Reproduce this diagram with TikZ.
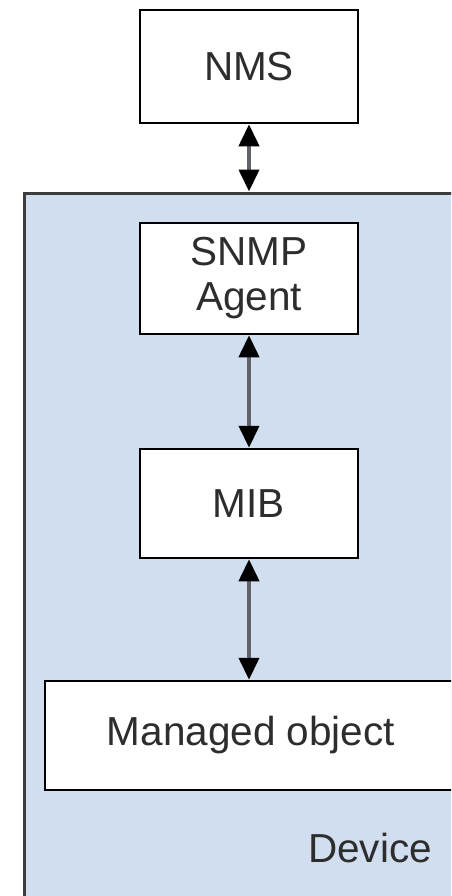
\documentclass[tikz,border=0pt]{standalone}
\usepackage{fontspec}
\setmainfont{Liberation Sans}
\usetikzlibrary{
  arrows.meta,
  positioning
}
\definecolor{devblue}{RGB}{209,222,240}
\definecolor{edgegray}{RGB}{60,60,62}
\definecolor{shaftgray}{RGB}{96,98,108}
\definecolor{textgray}{RGB}{45,45,45}

\begin{document}
\begin{tikzpicture}[x=0.5pt, y=-0.5pt,
    every node/.style={font=\fontsize{20.25}{22.5}\selectfont, text=textgray},
    box/.style={draw=black, line width=1.25pt, fill=white, inner sep=0pt, align=center},
    link/.style={draw=shaftgray, line width=2pt,
      {Triangle[length=11pt,width=10pt,color=black]}-{Triangle[length=11pt,width=10pt,color=black]}}]
    \useasboundingbox (0,0) rectangle (451,896);
    \clip (0,0) rectangle (451,896);

    % Device frame
    \node[draw=edgegray, line width=1.5pt, fill=devblue, inner sep=0pt,
      minimum width=223.5pt, minimum height=359.5pt] (device) at (247.5,552.5) {};
    \node (devlabel) at (370,848) {Device};

    % Boxes
    \node[box, minimum width=109pt, minimum height=56.5pt] (nms) at (249,66.5) {NMS};
    \node[box, minimum width=109pt, minimum height=55.5pt] (agent) at (249,278.5) {SNMP\\Agent};
    \node[box, minimum width=109pt, minimum height=54.5pt] (mib) at (249,503.5) {MIB};
    \node[box, minimum width=206pt, minimum height=54.5pt] (mobj) at (251,735.5) {Managed object};

    % Connectors
    \draw[link] (nms.south) -- (nms.south |- device.north);
    \draw[link] (agent.south) -- (mib.north);
    \draw[link] (mib.south) -- (mib.south |- mobj.north);
\end{tikzpicture}
\end{document}
